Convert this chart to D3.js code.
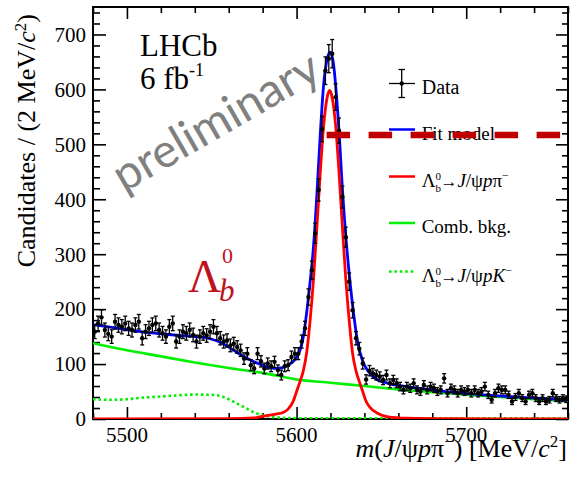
<!DOCTYPE html>
<html>
<head>
<meta charset="utf-8">
<script src="https://cdn.jsdelivr.net/npm/d3@7"></script>
<style>
  body { margin: 0; background: #fff; }
  svg { display: block; }
</style>
</head>
<body>
<svg id="chart" width="571" height="479"></svg>
<script>
// 軸の範囲
const massDomain = [5480, 5760];
const countDomain = [0, 750];

// データ (2 MeV ビン)
const binCenters = d3.range(5481, 5760, 2);
const counts = [
  159, 174, 185, 162, 155, 150, 177, 171, 168, 174,
  165, 162, 171, 177, 147, 159, 165, 171, 174, 162,
  156, 150, 168, 174, 141, 150, 159, 156, 162, 153,
  141, 150, 156, 152, 159, 168, 156, 147, 141, 143,
  134, 137, 131, 125, 110, 119, 98, 92, 119, 105,
  92, 101, 96, 104, 89, 80, 96, 98, 113, 119,
  119, 141, 165, 222, 271, 338, 417, 528, 634, 656,
  665, 586, 525, 404, 331, 250, 198, 147, 128, 101,
  72, 88, 83, 80, 77, 71, 80, 65, 71, 65,
  59, 53, 59, 56, 65, 53, 50, 62, 53, 59,
  56, 50, 53, 74, 47, 56, 53, 47, 53, 50,
  53, 47, 53, 47, 50, 59, 44, 35, 47, 56,
  53, 53, 44, 32, 40, 47, 38, 32, 44, 47,
  38, 32, 38, 32, 35, 47, 38, 35, 38, 36
];

// フィットモデル (青)
const fitMass = [5480, 5495, 5508, 5520, 5531, 5540, 5548, 5556, 5563, 5571, 5580, 5588, 5594, 5598, 5600, 5602, 5604, 5606, 5608, 5610, 5612, 5614, 5616, 5618, 5619.7, 5621.5, 5623.5, 5625.5, 5627, 5629.5, 5631.5, 5633.5, 5636, 5639, 5642, 5646, 5654, 5665, 5675, 5693, 5710, 5730, 5760];
const fitVals = [172, 165, 159, 155, 152, 150, 147, 138, 125, 110, 98, 92, 96, 105, 112, 125, 150, 195, 250, 315, 410, 520, 610, 655, 668, 652, 590, 500, 420, 315, 250, 195, 140, 105, 88, 75, 65, 59, 55, 48.5, 44, 40, 35];

// 信号 Λb0→J/ψpπ− (赤)
const sigMass = [5480, 5560, 5575, 5580, 5588, 5592, 5595, 5598, 5600, 5602, 5604, 5606, 5608, 5610, 5612, 5614, 5616, 5618, 5619.5, 5621, 5623, 5625, 5627, 5629, 5631, 5633, 5635, 5637, 5639, 5641, 5643, 5648, 5654, 5665, 5690, 5760];
const sigVals = [0, 0.5, 2, 5, 9, 12, 18, 32, 50, 68, 88, 122, 180, 255, 350, 450, 535, 585, 598, 585, 535, 450, 350, 255, 180, 120, 88, 68, 50, 32, 22, 10, 4, 1.5, 0.5, 0];

// 組み合わせ背景 (緑)
const combMass = [5480, 5500, 5520, 5540, 5560, 5580, 5600, 5620, 5640, 5660, 5680, 5700, 5720, 5740, 5760];
const combVals = [138, 125, 114, 103, 93, 84, 72, 66, 60, 54, 49, 44, 40, 36, 33];

// Λb0→J/ψpK− (緑点線)
const pkMass = [5480, 5490, 5500, 5510, 5520, 5530, 5540, 5550, 5556, 5560, 5565, 5570, 5575, 5580, 5585, 5590, 5600, 5760];
const pkVals = [36, 35, 36, 39, 41, 43, 44.5, 44, 41, 36, 28, 20, 12, 7, 4, 2.5, 1.5, 1.5];

// 注釈の破線
const refLine = { from: 5617.7, to: 5760, value: 517 };

const xMajor = [5500, 5600, 5700];
const yMajor = [0, 100, 200, 300, 400, 500, 600, 700];

const width = 571, height = 479;
const margin = { left: 93, right: 3, top: 7, bottom: 60 };
const plotW = width - margin.left - margin.right;
const plotH = height - margin.top - margin.bottom;
const serif = '"Liberation Serif", "Times New Roman", serif';
const green = '#00f000';

const svg = d3.select('#chart');

const x = d3.scaleLinear().domain(massDomain).range([margin.left, margin.left + plotW]);
const y = d3.scaleLinear().domain(countDomain).range([margin.top + plotH, margin.top]);

svg.append('defs').append('clipPath').attr('id', 'plot-clip')
  .append('rect')
  .attr('x', margin.left).attr('y', margin.top)
  .attr('width', plotW).attr('height', plotH);

// テキスト追加のヘルパー
function txt(parent, px) {
  return parent.append('text').style('font-family', serif).style('font-size', px + 'px');
}

// 枠
svg.append('rect')
  .attr('x', margin.left).attr('y', margin.top)
  .attr('width', plotW).attr('height', plotH)
  .attr('fill', 'none').attr('stroke', '#000').attr('stroke-width', 2);

// 目盛り (内向き、4辺)
const xMinor = d3.range(5480, 5761, 20).filter(v => !xMajor.includes(v));
const yMinor = d3.range(0, 751, 20).filter(v => !yMajor.includes(v));

function ticks(axisGen, tickValues, len, transform) {
  svg.append('g')
    .attr('transform', transform)
    .call(axisGen.tickValues(tickValues).tickSize(len).tickFormat(''))
    .call(g => g.select('.domain').remove())
    .call(g => g.selectAll('line').attr('stroke', '#000').attr('stroke-width', 1.6));
}
const bottomY = margin.top + plotH, rightX = margin.left + plotW;
ticks(d3.axisTop(x), xMajor, 12, `translate(0,${bottomY})`);
ticks(d3.axisTop(x), xMinor, 6, `translate(0,${bottomY})`);
ticks(d3.axisBottom(x), xMajor, 12, `translate(0,${margin.top})`);
ticks(d3.axisBottom(x), xMinor, 6, `translate(0,${margin.top})`);
ticks(d3.axisRight(y), yMajor, 13, `translate(${margin.left},0)`);
ticks(d3.axisRight(y), yMinor, 7, `translate(${margin.left},0)`);
ticks(d3.axisLeft(y), yMajor, 12, `translate(${rightX},0)`);
ticks(d3.axisLeft(y), yMinor, 6, `translate(${rightX},0)`);

// 目盛りラベル
const yLab = svg.append('g');
yMajor.forEach(d => {
  txt(yLab, 21).attr('x', margin.left - 7).attr('y', y(d)).attr('dy', '0.35em')
    .attr('text-anchor', 'end').text(d);
});
const xLab = svg.append('g');
xMajor.forEach(d => {
  txt(xLab, 21).attr('x', x(d)).attr('y', 442).attr('text-anchor', 'middle').text(d);
});

// 軸タイトル
const yTitle = txt(svg, 26)
  .attr('transform', 'translate(35,14) rotate(-90)')
  .attr('text-anchor', 'end');
yTitle.append('tspan').text('Candidates / (2 MeV/');
yTitle.append('tspan').style('font-style', 'italic').text('c');
yTitle.append('tspan').attr('dy', -9).style('font-size', '17px').text('2');
yTitle.append('tspan').attr('dy', 9).text(')');

const xTitle = txt(svg, 26)
  .attr('x', 567).attr('y', 457)
  .attr('text-anchor', 'end');
xTitle.append('tspan').style('font-style', 'italic').text('m');
xTitle.append('tspan').text('(');
xTitle.append('tspan').style('font-style', 'italic').text('J');
xTitle.append('tspan').text('/ψ');
xTitle.append('tspan').style('font-style', 'italic').text('p');
xTitle.append('tspan').text('π');
xTitle.append('tspan').attr('dy', -10).style('font-size', '17px').text('−');
xTitle.append('tspan').attr('dy', 10).text(') [MeV/');
xTitle.append('tspan').style('font-style', 'italic').text('c');
xTitle.append('tspan').attr('dy', -10).style('font-size', '17px').text('2');
xTitle.append('tspan').attr('dy', 10).text(']');

// 曲線
const plot = svg.append('g').attr('clip-path', 'url(#plot-clip)');
function curve(ms, vs, color, w, dash) {
  const pts = ms.map((m, i) => [m, vs[i]]);
  const line = d3.line().x(d => x(d[0])).y(d => y(d[1])).curve(d3.curveMonotoneX);
  const p = plot.append('path').datum(pts)
    .attr('d', line).attr('fill', 'none')
    .attr('stroke', color).attr('stroke-width', w);
  if (dash) p.attr('stroke-dasharray', dash);
  return p;
}
curve(pkMass, pkVals, green, 2.6, '2.6,2.8');
curve(combMass, combVals, green, 2.6);
curve(fitMass, fitVals, '#0000ff', 2.8);
curve(sigMass, sigVals, '#ff0000', 2.8);

// データ点
const pts = binCenters.map((m, i) => ({ m, v: counts[i] }));
const dataG = svg.append('g').attr('stroke', '#000').attr('stroke-width', 1.3);
pts.forEach(d => {
  const e = Math.sqrt(d.v);
  const cx = x(d.m), cy = y(d.v);
  dataG.append('line').attr('x1', cx).attr('x2', cx).attr('y1', y(d.v - e)).attr('y2', y(d.v + e));
  dataG.append('line').attr('x1', cx - 2).attr('x2', cx + 2).attr('y1', y(d.v - e)).attr('y2', y(d.v - e));
  dataG.append('line').attr('x1', cx - 2).attr('x2', cx + 2).attr('y1', y(d.v + e)).attr('y2', y(d.v + e));
  dataG.append('line').attr('x1', x(d.m - 1)).attr('x2', x(d.m + 1)).attr('y1', cy).attr('y2', cy);
});
svg.append('g').selectAll('circle').data(pts).enter().append('circle')
  .attr('cx', d => x(d.m)).attr('cy', d => y(d.v)).attr('r', 2.2).attr('fill', '#000');

// LHCb ラベル
txt(svg, 31).attr('x', 140).attr('y', 56).text('LHCb');
const lumi = txt(svg, 31).attr('x', 140).attr('y', 89);
lumi.append('tspan').text('6 fb');
lumi.append('tspan').attr('dy', -13).style('font-size', '18px').text('-1');

// preliminary
svg.append('text')
  .attr('transform', 'translate(124,193) rotate(-30)')
  .style('font-family', 'Lato, "Open Sans", sans-serif')
  .style('font-size', '47px').attr('fill', '#808080')
  .text('preliminary');

// Λb0 注釈
const lamColor = '#c0121c';
txt(svg, 46).attr('x', 188).attr('y', 292).attr('fill', lamColor).text('Λ');
txt(svg, 22).attr('x', 222).attr('y', 263).attr('fill', lamColor).text('0');
txt(svg, 31).attr('x', 219).attr('y', 301).attr('fill', lamColor).style('font-style', 'italic').text('b');

// 凡例
const legX0 = 389, legX1 = 415, legTx = 421.7, legFont = 19;
const legendRows = [83.5, 129.5, 176.5, 223, 271.5];
const leg = svg.append('g');
// Data
leg.append('line').attr('x1', legX0).attr('x2', legX1).attr('y1', legendRows[0]).attr('y2', legendRows[0]).attr('stroke', '#000').attr('stroke-width', 1.3);
leg.append('line').attr('x1', 401.7).attr('x2', 401.7).attr('y1', legendRows[0] - 14).attr('y2', legendRows[0] + 14).attr('stroke', '#000').attr('stroke-width', 1.3);
[-14, 14].forEach(o => leg.append('line').attr('x1', 398.5).attr('x2', 405).attr('y1', legendRows[0] + o).attr('y2', legendRows[0] + o).attr('stroke', '#000').attr('stroke-width', 1.3));
leg.append('circle').attr('cx', 401.7).attr('cy', legendRows[0]).attr('r', 2.2).attr('fill', '#000');
txt(leg, 20).attr('x', legTx).attr('y', legendRows[0] + 10).text('Data');
// Fit model
leg.append('line').attr('x1', legX0).attr('x2', legX1).attr('y1', legendRows[1]).attr('y2', legendRows[1]).attr('stroke', '#0000ff').attr('stroke-width', 2.5);
txt(leg, legFont).attr('x', legTx).attr('y', legendRows[1] + 10).text('Fit model');
// 崩壊ラベル
function decayLabel(yc, last) {
  const t = txt(leg, legFont).attr('x', legTx).attr('y', yc + 10);
  t.append('tspan').text('Λ');
  t.append('tspan').attr('dy', -7).style('font-size', '11px').text('0');
  t.append('tspan').attr('dx', -5.6).attr('dy', 12).style('font-size', '11px').text('b');
  t.append('tspan').attr('dy', -5).attr('dx', -0.5).style('font-size', '17px').text('→');
  t.append('tspan').style('font-style', 'italic').text('J');
  t.append('tspan').text('/ψ');
  if (last === 'π') {
    t.append('tspan').style('font-style', 'italic').text('p');
    t.append('tspan').text('π');
  } else {
    t.append('tspan').style('font-style', 'italic').text('pK');
  }
  t.append('tspan').attr('dy', -8).style('font-size', '12px').text('−');
}
leg.append('line').attr('x1', legX0).attr('x2', legX1).attr('y1', legendRows[2]).attr('y2', legendRows[2]).attr('stroke', '#ff0000').attr('stroke-width', 2.5);
decayLabel(legendRows[2], 'π');
leg.append('line').attr('x1', legX0).attr('x2', legX1).attr('y1', legendRows[3]).attr('y2', legendRows[3]).attr('stroke', green).attr('stroke-width', 2.5);
txt(leg, legFont).attr('x', legTx).attr('y', legendRows[3] + 10).text('Comb. bkg.');
leg.append('line').attr('x1', legX0).attr('x2', legX1).attr('y1', legendRows[4]).attr('y2', legendRows[4]).attr('stroke', green).attr('stroke-width', 2.5).attr('stroke-dasharray', '2.6,2.8');
decayLabel(legendRows[4], 'K');

// 赤い破線
svg.append('line')
  .attr('x1', x(refLine.from)).attr('x2', x(refLine.to))
  .attr('y1', y(refLine.value)).attr('y2', y(refLine.value))
  .attr('stroke', '#c00000').attr('stroke-width', 6.5)
  .attr('stroke-dasharray', '23.5,18.5');
</script>
</body>
</html>
